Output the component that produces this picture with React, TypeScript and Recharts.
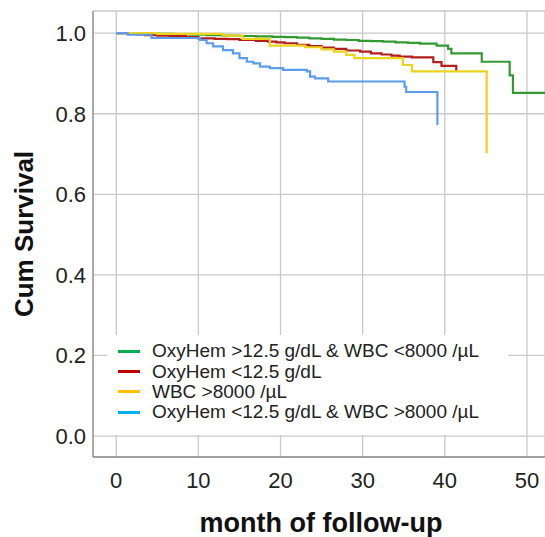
import React from 'react';
import { LineChart, Line, XAxis, YAxis, CartesianGrid, Legend } from 'recharts';

const greenTimes = [0, 3, 5, 7, 9, 11, 13, 15, 17, 19, 20.5, 22, 23.5, 25, 26.5, 28, 29.5, 31, 32.5, 34, 35.5, 37, 39, 40.4, 40.8, 44.5, 47.9, 48.3, 53];
const greenSurv = [1.0, 0.999, 0.998, 0.997, 0.996, 0.995, 0.994, 0.993, 0.992, 0.991, 0.99, 0.989, 0.987, 0.986, 0.984, 0.983, 0.981, 0.98, 0.979, 0.977, 0.976, 0.974, 0.969, 0.961, 0.95, 0.929, 0.895, 0.852, 0.852];

const redTimes = [0, 1.4, 2.5, 3.5, 5, 6.5, 8.5, 10, 12, 13.5, 15, 17, 18.5, 19.5, 20.5, 22, 23.5, 25, 26.5, 28, 29.7, 31, 32.3, 33.5, 34.5, 36, 38.6, 39.6, 41.4];
const redSurv = [1.0, 0.998, 0.997, 0.995, 0.994, 0.993, 0.99, 0.987, 0.986, 0.985, 0.983, 0.981, 0.979, 0.977, 0.975, 0.971, 0.968, 0.964, 0.961, 0.957, 0.954, 0.95, 0.947, 0.944, 0.942, 0.94, 0.928, 0.919, 0.905];

const yellowTimes = [0, 5, 13, 15.4, 18.7, 23, 25, 26.5, 28, 29, 34.9, 36, 45.1];
const yellowSurv = [1.0, 0.998, 0.994, 0.986, 0.969, 0.965, 0.96, 0.954, 0.946, 0.938, 0.921, 0.905, 0.702];

const blueTimes = [0, 1.4, 4.3, 10.2, 11.0, 11.8, 13.0, 14.2, 15.0, 15.9, 16.7, 17.5, 18.7, 20.3, 23.2, 23.6, 24.2, 25.8, 35.1, 35.3, 39.1];
const blueSurv = [1.0, 0.996, 0.988, 0.983, 0.975, 0.967, 0.958, 0.95, 0.938, 0.929, 0.925, 0.917, 0.913, 0.909, 0.905, 0.892, 0.888, 0.88, 0.867, 0.854, 0.772];

const xTicks = [0, 10, 20, 30, 40, 50];
const yTicks = [0, 0.2, 0.4, 0.6, 0.8, 1.0];

const seriesNames = [
  'OxyHem >12.5 g/dL & WBC <8000 /µL',
  'OxyHem <12.5 g/dL',
  'WBC >8000 /µL',
  'OxyHem <12.5 g/dL & WBC >8000 /µL',
];
const lineColors = ['#339a33', '#b51c1c', '#ecd31c', '#5b9ceb'];
const legendColors = ['#00b050', '#c00000', '#ffc000', '#00b0f0'];

const build = (times: number[], surv: number[]) => times.map((t, i) => ({ t, s: surv[i] }));

const series = [
  build(greenTimes, greenSurv),
  build(redTimes, redSurv),
  build(yellowTimes, yellowSurv),
  build(blueTimes, blueSurv),
];

const FONT = '"Liberation Sans", Arial, sans-serif';

const LegendBox = () => (
  <div style={{ fontFamily: FONT, fontSize: 19, color: '#222', paddingTop: 6 }}>
    {seriesNames.map((n, i) => (
      <div key={n} style={{ display: 'flex', alignItems: 'center', height: 20.4 }}>
        <div style={{ width: 22, height: 3, marginLeft: 11, marginRight: 12, background: legendColors[i] }} />
        <span style={{ whiteSpace: 'nowrap' }}>{n}</span>
      </div>
    ))}
  </div>
);

export default function App() {
  return (
    <div style={{ position: 'absolute', left: 0, top: 0 }}>
      <LineChart
        width={545}
        height={537}
        margin={{ top: 11, right: 0, left: 0, bottom: 0 }}
        style={{ fontFamily: FONT }}
      >
        <CartesianGrid stroke="#c9c9c9" strokeWidth={1.3} />
        <XAxis
          type="number"
          dataKey="t"
          domain={[-2.83, 52.2]}
          ticks={xTicks}
          allowDataOverflow
          height={80}
          tickLine={false}
          tickSize={6}
          tickMargin={9}
          axisLine={{ stroke: '#8f8f8f', strokeWidth: 1.3 }}
          tick={{ fill: '#222', fontSize: 22 }}
          label={{
            content: (props: any) => {
              const vb = props.viewBox;
              return (
                <text x={vb.x + vb.width / 2 + 2} y={vb.y + 75} textAnchor="middle" fontSize={27} fontWeight="bold" fill="#111" fontFamily={FONT}>
                  month of follow-up
                </text>
              );
            },
          }}
        />
        <YAxis
          type="number"
          dataKey="s"
          domain={[-0.052, 1.055]}
          ticks={yTicks}
          allowDataOverflow
          width={93}
          tickLine={false}
          tickSize={6}
          tickMargin={1}
          tickFormatter={(v: number) => v.toFixed(1)}
          axisLine={{ stroke: '#8f8f8f', strokeWidth: 1.3 }}
          tick={{ fill: '#222', fontSize: 22 }}
          label={{
            content: (props: any) => {
              const vb = props.viewBox;
              const cx = vb.x + 33;
              const cy = vb.y + vb.height / 2;
              return (
                <text x={cx} y={cy} transform={`rotate(-90, ${cx}, ${cy})`} textAnchor="middle" fontSize={26} fontWeight="bold" fill="#111" fontFamily={FONT}>
                  Cum Survival
                </text>
              );
            },
          }}
        />
        {series.map((d, i) => (
          <Line
            key={seriesNames[i]}
            data={d}
            dataKey="s"
            name={seriesNames[i]}
            type="stepAfter"
            stroke={lineColors[i]}
            strokeWidth={2.2}
            dot={false}
            activeDot={false}
            isAnimationActive={false}
          />
        ))}
        <Legend
          layout="vertical"
          align="center"
          verticalAlign="middle"
          content={() => <LegendBox />}
          wrapperStyle={{ position: 'absolute', left: 107, top: 335, width: 401, height: 100, background: '#fff' }}
        />
      </LineChart>
    </div>
  );
}
